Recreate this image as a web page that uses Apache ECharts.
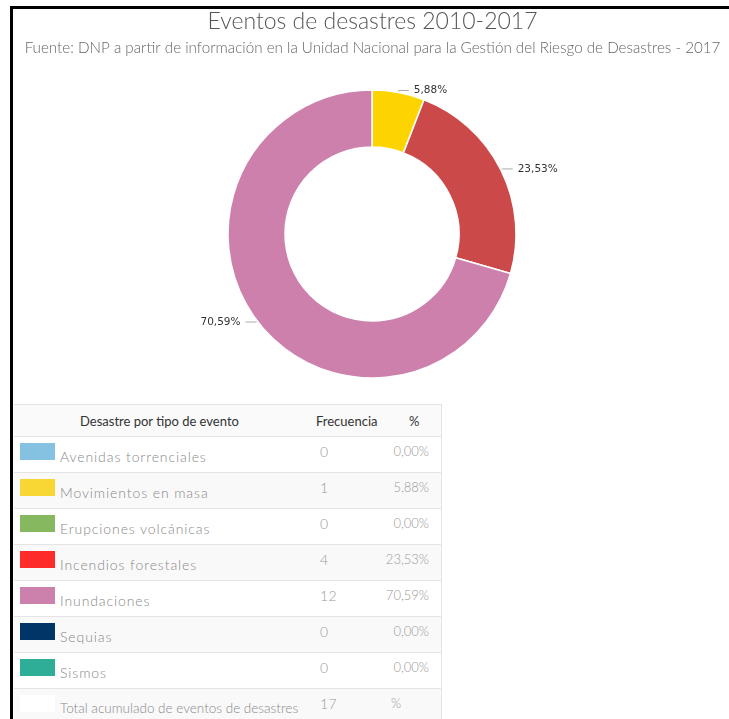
<!DOCTYPE html>
<html>
<head>
<meta charset="utf-8">
<script src="https://cdn.jsdelivr.net/npm/echarts@6/dist/echarts.min.js"></script>
<style>
    html, body { margin: 0; padding: 0; background: #fff; overflow: hidden; }
    #frame {
        position: absolute; left: 10px; top: 6px; width: 716px; height: 713px;
        border-top: 3px solid #000; border-left: 3px solid #000;
    }
    #chart { position: absolute; left: 8px; top: 0; width: 729px; height: 400px; }
    #tabla {
        position: absolute; left: 14px; top: 404px; width: 427px; height: 315px;
        border-right: 1px solid #e4e4e4; overflow: hidden;
        font-family: Lato, 'Open Sans', sans-serif; font-weight: 300; color: #999;
    }
    .fila { position: absolute; left: 0; width: 427px; height: 36px; border-top: 1px solid #e4e4e4; }
    .fila.gris { background: #f9f9f9; }
    .cab { height: 31px; background: #fafafa; color: #333; font-size: 13px; font-weight: 400; }
    .cab span { position: absolute; top: 8px; }
    .sw { position: absolute; left: 6px; top: 6px; width: 35px; height: 17px; }
    .nm { position: absolute; left: 46px; top: 11px; font-size: 14px; letter-spacing: 0.9px; white-space: nowrap; color: #888; }
    .nm.total { font-size: 13.5px; letter-spacing: 0; }
    .fq { position: absolute; left: 306px; top: 6px; font-size: 14px; letter-spacing: 0.5px; }
    .pc { position: absolute; right: 12px; top: 6px; font-size: 13px; }
</style>
</head>
<body>
<div id="frame"></div>
<div id="chart"></div>
<div id="tabla"></div>
<script>
// datos
const eventos = ['Avenidas torrenciales', 'Movimientos en masa', 'Erupciones volcánicas',
    'Incendios forestales', 'Inundaciones', 'Sequias', 'Sismos']
const frecuencia = [0, 1, 0, 4, 12, 0, 0]
const porcentaje = ['0,00%', '5,88%', '0,00%', '23,53%', '70,59%', '0,00%', '0,00%']
const coloresTabla = ['#85c1e0', '#f8d634', '#86b85f', '#fe2b2b', '#cc80ac', '#013467', '#2fae97']
const coloresPie = ['#85c1e0', '#fdd400', '#86b85f', '#cc4949', '#cd80ac', '#013467', '#2fae97']
const totalTexto = 'Total acumulado de eventos de desastres'
const total = 17

const myChart = echarts.init(document.getElementById('chart'))

// solo los eventos con frecuencia > 0 van al anillo
const pieData = []
eventos.forEach((ev, i) => {
    if (frecuencia[i] > 0) {
        pieData.push({ name: ev, value: frecuencia[i], itemStyle: { color: coloresPie[i] } })
    }
})

const option = {
    title: {
        text: 'Eventos de desastres 2010-2017',
        subtext: 'Fuente: DNP a partir de información en la Unidad Nacional para la Gestión del Riesgo de Desastres - 2017',
        left: 'center',
        top: 5,
        itemGap: 8,
        textStyle: { fontFamily: 'Lato', fontWeight: 300, fontSize: 23, color: '#555' },
        subtextStyle: { fontFamily: 'Lato', fontWeight: 300, fontSize: 15.2, color: '#666' }
    },
    series: [
        {
            type: 'pie',
            center: [364, 234],
            radius: [87, 144],
            startAngle: 90,
            clockwise: true,
            animation: false,
            itemStyle: { borderColor: '#fff', borderWidth: 1.5 },
            label: {
                show: true,
                fontSize: 10.5,
                color: '#333',
                fontFamily: 'DejaVu Sans',
                formatter: (p) => p.percent.toFixed(2).replace('.', ',') + '%'
            },
            labelLine: { length: 2, length2: 10, lineStyle: { color: '#aaa' } },
            data: pieData
        }
    ]
}
myChart.setOption(option)

// tabla
const tabla = document.getElementById('tabla')
let html = '<div class="fila cab" style="top:0">' +
    '<span style="left:66px">Desastre por tipo de evento</span>' +
    '<span style="left:302px">Frecuencia</span>' +
    '<span style="left:395px">%</span></div>'
const filas = eventos.map((ev, i) => ({ color: coloresTabla[i], nombre: ev, fq: frecuencia[i], pc: porcentaje[i] }))
filas.push({ color: '#fff', nombre: totalTexto, fq: total, pc: '%', total: true })
filas.forEach((f, i) => {
    const top = 32 + 36 * i
    const pcStyle = f.total ? 'right:auto;left:377px' : ''
    html += '<div class="fila' + (i % 2 === 1 ? ' gris' : '') + '" style="top:' + top + 'px">' +
        '<span class="sw" style="background:' + f.color + '"></span>' +
        '<span class="nm' + (f.total ? ' total' : '') + '">' + f.nombre + '</span>' +
        '<span class="fq">' + f.fq + '</span>' +
        '<span class="pc" style="' + pcStyle + '">' + f.pc + '</span></div>'
})
tabla.innerHTML = html
</script>
</body>
</html>
